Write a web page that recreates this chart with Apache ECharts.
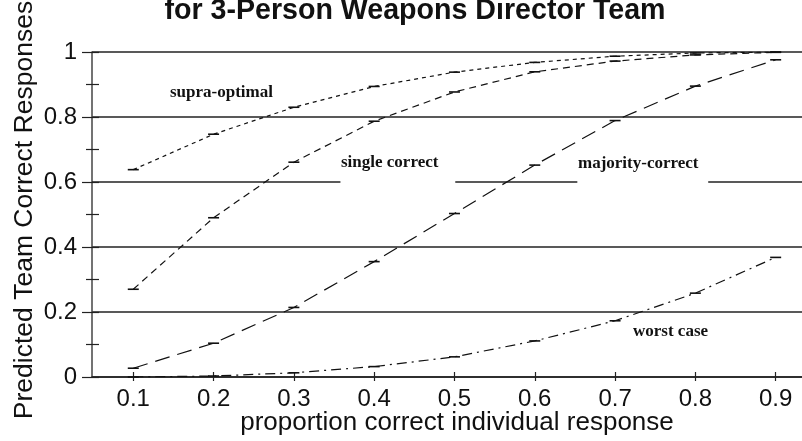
<!DOCTYPE html>
<html>
<head>
<meta charset="utf-8">
<script src="https://cdn.jsdelivr.net/npm/echarts@6/dist/echarts.min.js"></script>
<style>html,body{margin:0;padding:0;background:#fff}#c{width:802px;height:441px}</style>
</head>
<body>
<div id="c"></div>
<script>
// ---- data ----
var proportions = [0.1, 0.2, 0.3, 0.4, 0.5, 0.6, 0.7, 0.8, 0.9];
var xTickValues = [0.1, 0.2, 0.3, 0.4, 0.5, 0.6, 0.7, 0.8, 0.9];
var yTickLabels = ['0', '0.2', '0.4', '0.6', '0.8', '1'];
var supraOptimal   = [0.638, 0.747, 0.830, 0.894, 0.938, 0.968, 0.987, 0.997, 1.000];
var singleCorrect  = [0.270, 0.490, 0.661, 0.787, 0.877, 0.939, 0.972, 0.991, 0.999];
var majorityCorrect= [0.027, 0.104, 0.214, 0.355, 0.503, 0.652, 0.789, 0.895, 0.976];
var worstCase      = [0.000, 0.003, 0.013, 0.032, 0.062, 0.111, 0.173, 0.258, 0.368];
var seriesNames = ['supra-optimal', 'single correct', 'majority-correct', 'worst case'];

var X_MIN = 0.0486, X_MAX = 0.9328;
var ink = '#111';
function pairs(vals) { return proportions.map(function (p, i) { return [p, vals[i]]; }); }
function lineSeries(name, vals, dash) {
  return {
    name: name, type: 'line', data: pairs(vals), xAxisIndex: 0, yAxisIndex: 0,
    symbol: 'rect', symbolSize: [11, 1.6], showAllSymbol: true,
    itemStyle: { color: ink }, lineStyle: { color: ink, width: 1.2, type: dash },
    animation: false, z: 5
  };
}

var chart = echarts.init(document.getElementById('c'), null, { renderer: 'canvas' });
var option = {
  backgroundColor: '#fff',
  animation: false,
  grid: { left: 92, right: 0, top: 52, bottom: 64, containLabel: false },
  xAxis: [{
    type: 'value', min: X_MIN, max: X_MAX,
    axisLine: { show: true, lineStyle: { color: '#222', width: 1.5 } },
    axisTick: { show: true, inside: false, length: 4, customValues: xTickValues, lineStyle: { color: '#222', width: 1.2 } },
    axisLabel: { show: true, customValues: xTickValues, margin: 10, fontSize: 24, fontFamily: 'Liberation Sans', color: ink,
      formatter: function (v) { return (Math.round(v * 10) / 10).toString(); } },
    splitLine: { show: false }
  }, {
    type: 'value', min: X_MIN, max: X_MAX, position: 'bottom',
    axisLine: { show: false },
    axisTick: { show: true, inside: true, length: 5, customValues: xTickValues, lineStyle: { color: '#222', width: 1.2 } },
    axisLabel: { show: false, customValues: xTickValues },
    splitLine: { show: false }
  }],
  yAxis: [{
    type: 'value', min: 0, max: 1, interval: 0.2,
    axisLine: { show: true, lineStyle: { color: '#444', width: 1.5 } },
    axisTick: { show: true, inside: false, length: 10, lineStyle: { color: '#222', width: 1.2 } },
    minorTick: { show: true, splitNumber: 2, length: 6, lineStyle: { color: '#222', width: 1.2 } },
    axisLabel: { show: true, margin: 15, fontSize: 24, fontFamily: 'Liberation Sans', color: ink,
      formatter: function (v) { return yTickLabels[Math.round(v * 5)]; } },
    splitLine: { show: true, lineStyle: { color: ['#222', '#222', '#222', 'rgba(0,0,0,0)', '#222', '#222'], width: 1.5 } }
  }, {
    type: 'value', min: 0, max: 1, interval: 0.1, position: 'left',
    axisLine: { show: false },
    axisTick: { show: true, inside: true, length: 7, lineStyle: { color: '#222', width: 1.2 } },
    axisLabel: { show: false },
    splitLine: { show: false }
  }],
  series: [
    lineSeries(seriesNames[0], supraOptimal, [4, 4]),
    lineSeries(seriesNames[1], singleCorrect, [7, 5]),
    lineSeries(seriesNames[2], majorityCorrect, [15, 8]),
    lineSeries(seriesNames[3], worstCase, [10, 5, 2, 5]),
    {
      name: 'grid06', type: 'line', data: [], xAxisIndex: 0, yAxisIndex: 0, silent: true,
      markLine: {
        symbol: ['none', 'none'], silent: true, animation: false, label: { show: false },
        lineStyle: { color: '#222', width: 1.5, type: 'solid' },
        data: [
          [{ coord: [X_MIN, 0.6] }, { coord: [0.358, 0.6] }],
          [{ coord: [0.501, 0.6] }, { coord: [0.653, 0.6] }],
          [{ coord: [0.816, 0.6] }, { coord: [X_MAX, 0.6] }]
        ]
      }
    }
  ],
  graphic: [
    { type: 'text', x: 415, y: 11.5, style: { text: 'for 3-Person Weapons Director Team', font: 'bold 28.6px "Liberation Sans"', fill: ink, textAlign: 'center', textVerticalAlign: 'middle' } },
    { type: 'text', x: 25, y: 210, rotation: Math.PI / 2, style: { text: 'Predicted Team Correct Responses', font: '26.5px "Liberation Sans"', fill: ink, textAlign: 'center', textVerticalAlign: 'middle' } },
    { type: 'text', x: 457, y: 423, style: { text: 'proportion correct individual response', font: '26px "Liberation Sans"', fill: ink, textAlign: 'center', textVerticalAlign: 'middle' } },
    { type: 'text', x: 170, y: 92.8, style: { text: seriesNames[0], font: 'bold 17px "Liberation Serif"', fill: ink, textAlign: 'left', textVerticalAlign: 'middle' } },
    { type: 'text', x: 341, y: 163, style: { text: seriesNames[1], font: 'bold 17px "Liberation Serif"', fill: ink, textAlign: 'left', textVerticalAlign: 'middle' } },
    { type: 'text', x: 578, y: 163.8, style: { text: seriesNames[2], font: 'bold 17px "Liberation Serif"', fill: ink, textAlign: 'left', textVerticalAlign: 'middle' } },
    { type: 'text', x: 633, y: 331.5, style: { text: seriesNames[3], font: 'bold 17px "Liberation Serif"', fill: ink, textAlign: 'left', textVerticalAlign: 'middle' } }
  ]
};
chart.setOption(option);
</script>
</body>
</html>
